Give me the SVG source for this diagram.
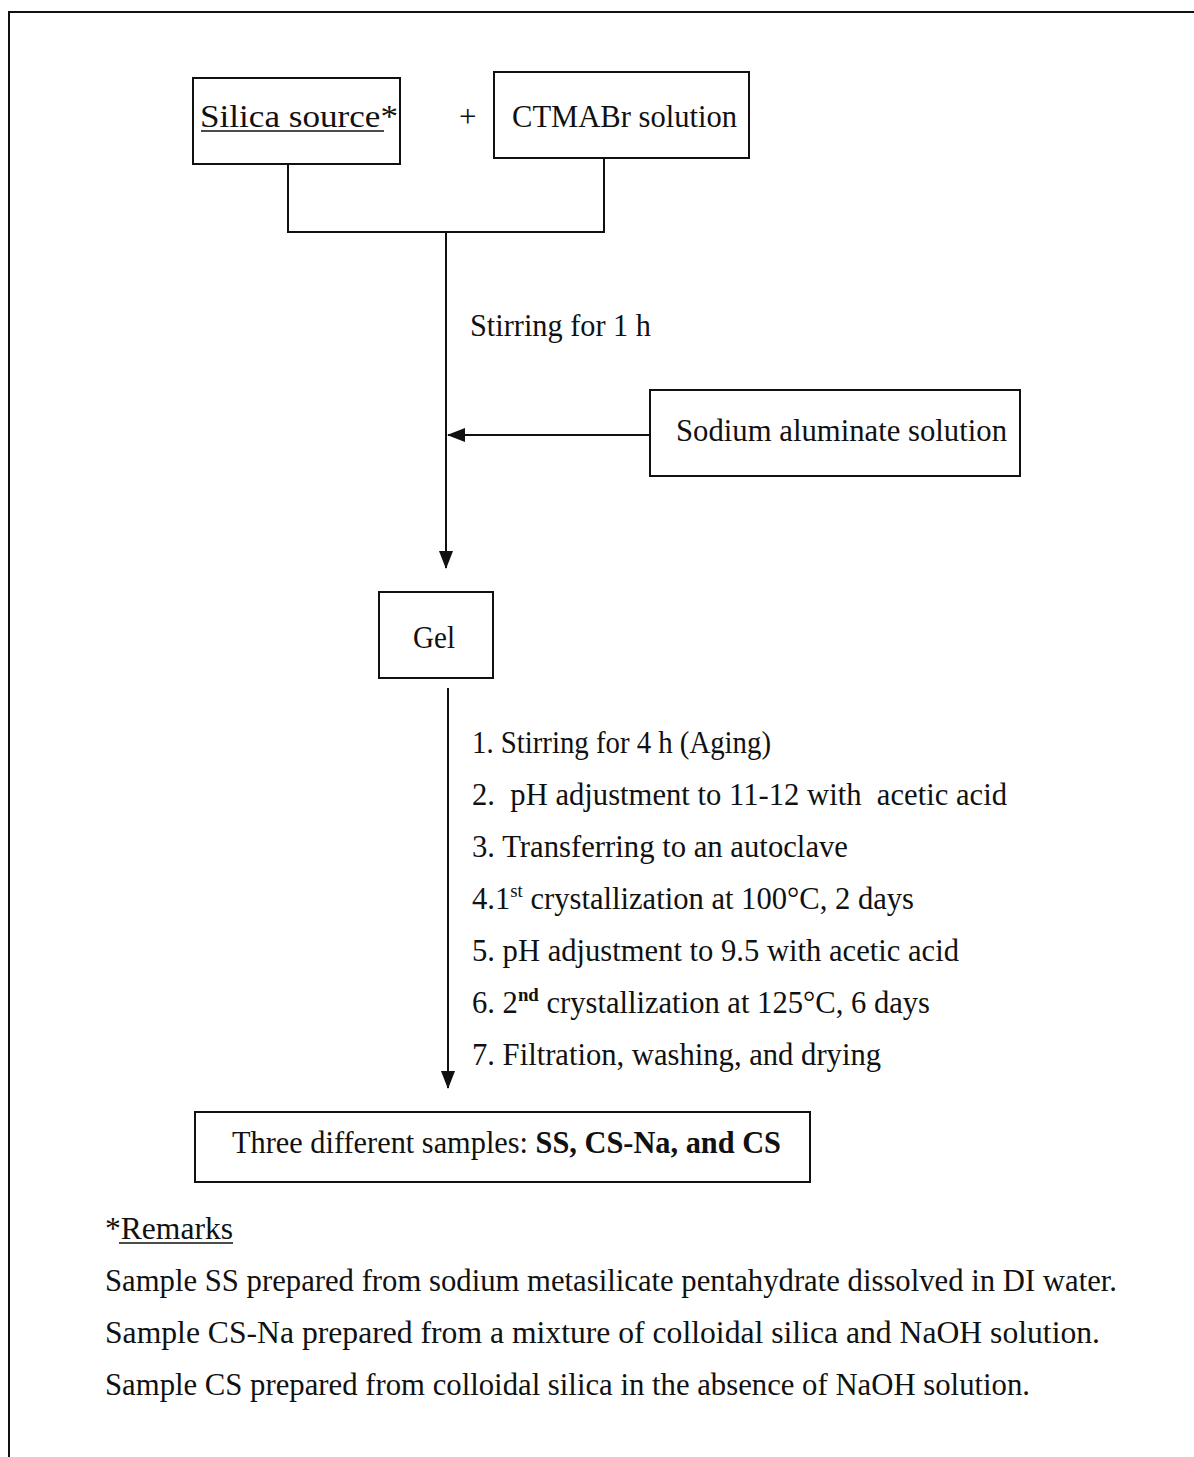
<svg xmlns="http://www.w3.org/2000/svg" width="1194" height="1457" viewBox="0 0 1194 1457">
<style>
.t{font-family:"Liberation Serif","Times New Roman",serif;font-size:31px;fill:#111}
.b{font-weight:bold}
.box{fill:#fff;stroke:#111;stroke-width:2}
.ln{fill:none;stroke:#111;stroke-width:2}
.ul{stroke:#111;stroke-width:1.5}
</style>
<defs>
<marker id="ah" viewBox="0 0 18 14" refX="17" refY="7" markerWidth="18" markerHeight="14" markerUnits="userSpaceOnUse" orient="auto">
<path d="M0,0 L18,7 L0,14 Z" fill="#111"/>
</marker>
</defs>
<rect x="9" y="12" width="1200" height="1460" class="ln"/>
<g id="connectors">
<path class="ln" d="M288,164 V232 H604 V158"/>
<path class="ln" d="M446,232 V568" marker-end="url(#ah)"/>
<path class="ln" d="M650,435 H448" marker-end="url(#ah)"/>
<path class="ln" d="M448,688 V1088" marker-end="url(#ah)"/>
</g>
<g id="silica">
<rect class="box" x="193" y="78" width="207" height="86"/>
<text class="t" x="200" y="127" textLength="198" lengthAdjust="spacingAndGlyphs">Silica source*</text>
<line class="ul" x1="201" y1="131" x2="384" y2="131"/>
</g>
<text class="t" x="459" y="127">+</text>
<g id="ctmabr">
<rect class="box" x="494" y="72" width="255" height="86"/>
<text class="t" x="512" y="127" textLength="225" lengthAdjust="spacingAndGlyphs">CTMABr solution</text>
</g>
<text class="t" x="470" y="336" textLength="181" lengthAdjust="spacingAndGlyphs">Stirring for 1 h</text>
<g id="aluminate">
<rect class="box" x="650" y="390" width="370" height="86"/>
<text class="t" x="676" y="441" textLength="331" lengthAdjust="spacingAndGlyphs">Sodium aluminate solution</text>
</g>
<g id="gel">
<rect class="box" x="379" y="592" width="114" height="86"/>
<text class="t" x="413" y="648" textLength="42" lengthAdjust="spacingAndGlyphs">Gel</text>
</g>
<g id="steps">
<text class="t" x="472" y="753" textLength="299" lengthAdjust="spacingAndGlyphs">1. Stirring for 4 h (Aging)</text>
<text class="t" x="472" y="805" textLength="535" lengthAdjust="spacingAndGlyphs" xml:space="preserve">2.  pH adjustment to 11-12 with  acetic acid</text>
<text class="t" x="472" y="857" textLength="376" lengthAdjust="spacingAndGlyphs">3. Transferring to an autoclave</text>
<text class="t" x="472" y="909" textLength="442" lengthAdjust="spacingAndGlyphs">4.1<tspan font-size="19" dy="-12">st</tspan><tspan dy="12"> crystallization at 100°C, 2 days</tspan></text>
<text class="t" x="472" y="961" textLength="487" lengthAdjust="spacingAndGlyphs">5. pH adjustment to 9.5 with acetic acid</text>
<text class="t" x="472" y="1013" textLength="458" lengthAdjust="spacingAndGlyphs">6. 2<tspan font-size="19" dy="-12" class="b">nd</tspan><tspan dy="12"> crystallization at 125°C, 6 days</tspan></text>
<text class="t" x="472" y="1065" textLength="409" lengthAdjust="spacingAndGlyphs">7. Filtration, washing, and drying</text>
</g>
<g id="samples">
<rect class="box" x="195" y="1112" width="615" height="70"/>
<text class="t" x="232" y="1153" textLength="549" lengthAdjust="spacingAndGlyphs">Three different samples: <tspan class="b">SS, CS-Na, and CS</tspan></text>
</g>
<g id="remarks">
<text class="t" x="105" y="1239" textLength="128" lengthAdjust="spacingAndGlyphs">*Remarks</text>
<line class="ul" x1="119" y1="1243" x2="233" y2="1243"/>
<text class="t" x="105" y="1291" textLength="1012" lengthAdjust="spacingAndGlyphs">Sample SS prepared from sodium metasilicate pentahydrate dissolved in DI water.</text>
<text class="t" x="105" y="1343" textLength="995" lengthAdjust="spacingAndGlyphs">Sample CS-Na prepared from a mixture of colloidal silica and NaOH solution.</text>
<text class="t" x="105" y="1395" textLength="925" lengthAdjust="spacingAndGlyphs">Sample CS prepared from colloidal silica in the absence of NaOH solution.</text>
</g>
</svg>
